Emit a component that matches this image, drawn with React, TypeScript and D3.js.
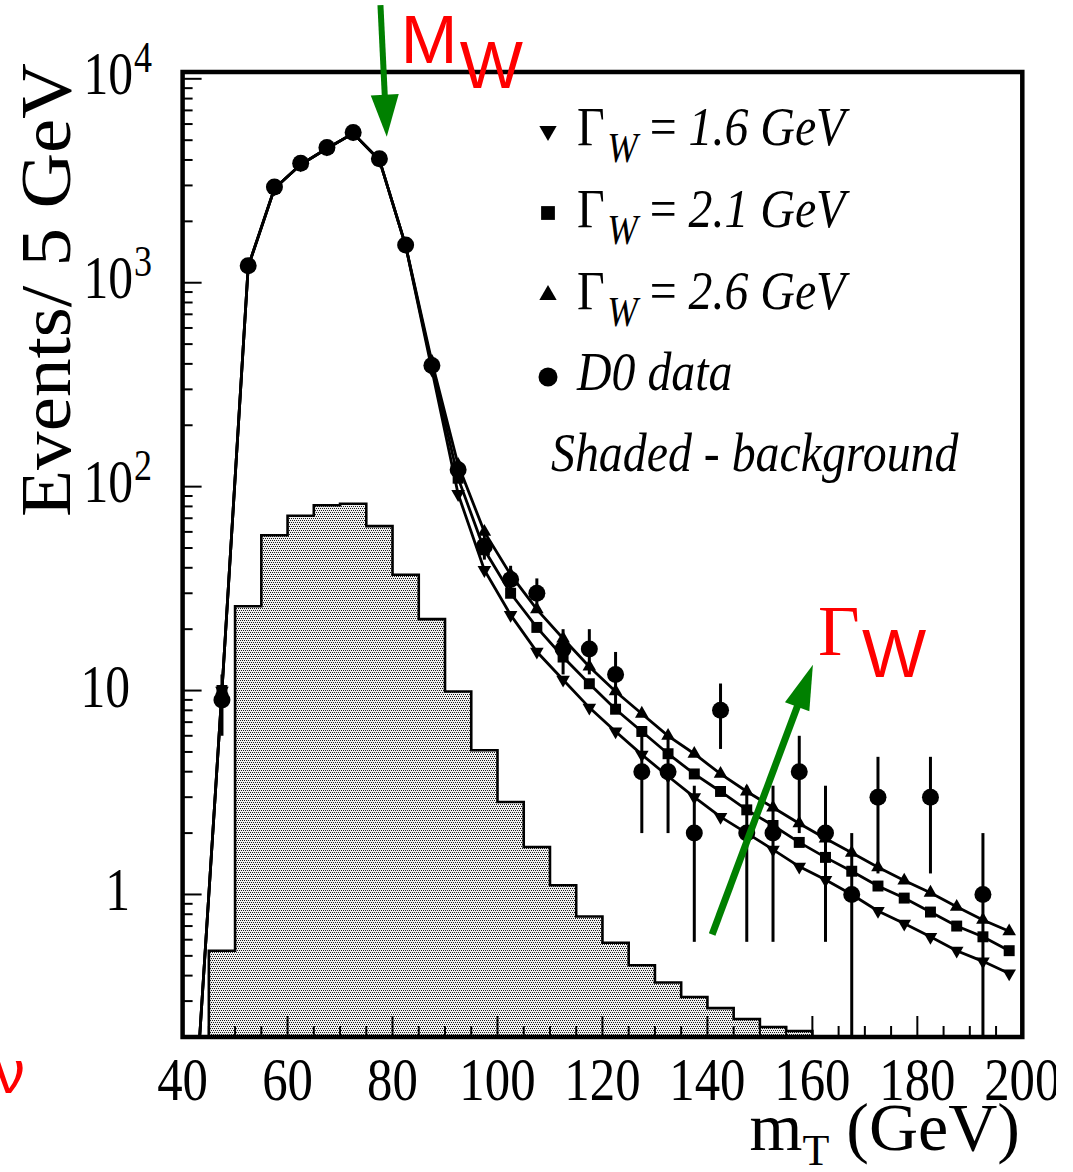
import React from 'react';
import * as d3 from 'd3';

// 5 GeV bins of transverse mass (bin centres)
const mtCenters = [42.5, 47.5, 52.5, 57.5, 62.5, 67.5, 72.5, 77.5, 82.5, 87.5, 92.5, 97.5, 102.5, 107.5, 112.5, 117.5,
  122.5, 127.5, 132.5, 137.5, 142.5, 147.5, 152.5, 157.5, 162.5, 167.5, 172.5, 177.5, 182.5, 187.5, 192.5, 197.5];

// D0 data (events / 5 GeV)
const d0Events = [0, 9, 1210, 2950, 3850, 4600, 5450, 4050, 1530, 393, 121, 51, 35, 30, 16, 16,
  12, 4, 4, 2, 8, 2, 2, 4, 2, 1, 3, 0, 3, 0, 1, 0];

// fits for three W widths
const fitGamma16 = [0.1, 10, 1200, 2900, 3800, 4550, 5400, 4000, 1520, 375, 92, 39, 23.5, 15.5, 11.3, 8.25,
  6.3, 4.85, 3.8, 3.0, 2.4, 2.0, 1.66, 1.37, 1.18, 1.0, 0.83, 0.72, 0.62, 0.53, 0.47, 0.41];
const fitGamma21 = [0.1, 10, 1200, 2900, 3800, 4550, 5400, 4000, 1520, 392, 110, 49, 30, 20.4, 14.6, 10.8,
  8.1, 6.3, 4.9, 3.9, 3.2, 2.6, 2.18, 1.8, 1.52, 1.3, 1.1, 0.96, 0.82, 0.7, 0.62, 0.53];
const fitGamma26 = [0.1, 10, 1200, 2900, 3800, 4550, 5400, 4000, 1520, 410, 128, 60, 37, 25, 18, 13.1,
  9.9, 7.7, 6.0, 4.9, 3.9, 3.2, 2.67, 2.23, 1.88, 1.6, 1.36, 1.17, 1.02, 0.87, 0.75, 0.66];

// shaded background histogram
const bgEvents = [0, 0.53, 25.9, 57.8, 72, 81, 82.5, 64, 37, 22.4, 9.9, 5.1, 2.84, 1.71, 1.11, 0.78,
  0.58, 0.45, 0.37, 0.314, 0.277, 0.245, 0.224, 0.214, 0, 0, 0, 0, 0, 0, 0, 0];

const xTicks = [40, 60, 80, 100, 120, 140, 160, 180, 200];
const yTicks = [1, 10, 100, 1000, 10000];
const widthLabels = ['1.6', '2.1', '2.6'];

const SERIF = "'Liberation Serif', 'Times New Roman', serif";
const SANS = "'Liberation Sans', Arial, sans-serif";
const GREEN = '#008000';

const W = 1073;
const H = 1172;

function arrowShapes(x1: number, y1: number, x2: number, y2: number, headLen: number, headHalf: number) {
  const len = Math.hypot(x2 - x1, y2 - y1);
  const ux = (x2 - x1) / len, uy = (y2 - y1) / len;
  const bx = x2 - ux * headLen, by = y2 - uy * headLen;
  const px = -uy, py = ux;
  return {
    shaft: [x1, y1, bx + ux * 2, by + uy * 2],
    head: `M${x2},${y2}L${bx + px * headHalf},${by + py * headHalf}L${bx - px * headHalf},${by - py * headHalf}Z`,
  };
}

export default function App() {
  const x = d3.scaleLinear().domain([40, 200]).range([182.6, 1022.3]);
  const y = d3.scaleLog().domain([0.2, 10800]).range([1037, 72]);
  const [x0, x1] = x.range();
  const [y0, y1] = y.range();
  const yv = (v: number) => (v > 0.2 ? y(v) : y0);

  const fitLine = d3.line<number>()
    .x((_, i) => x(mtCenters[i]))
    .y(v => y(v));

  // histogram outline (only the bins with content)
  const histPts: [number, number][] = [];
  bgEvents.forEach((v, i) => {
    if (v <= 0.2) return;
    const lo = mtCenters[i] - 2.5, hi = mtCenters[i] + 2.5;
    if (!histPts.length) histPts.push([x(lo), y0]);
    histPts.push([x(lo), y(v)], [x(hi), y(v)]);
  });
  histPts.push([histPts[histPts.length - 1][0], y0]);
  const histPath = d3.line()(histPts) + 'Z';

  const triUp = d3.symbol(d3.symbolTriangle, 80)();
  const square = d3.symbol(d3.symbolSquare, 120)();
  const triUpLeg = d3.symbol(d3.symbolTriangle, 130)();
  const squareLeg = d3.symbol(d3.symbolSquare, 190)();

  const fits = [
    { vals: fitGamma16, marker: triUp, rot: 180 },
    { vals: fitGamma21, marker: square, rot: 0 },
    { vals: fitGamma26, marker: triUp, rot: 0 },
  ];

  // minor ticks
  const yMinor: number[] = [];
  for (let e = -1; e <= 4; e++) {
    for (let k = 2; k <= 9; k++) {
      const v = k * Math.pow(10, e);
      if (v > 0.2 && v < 10800) yMinor.push(v);
    }
  }
  const xMinor = d3.range(45, 200, 5).filter(v => v % 20 !== 0);

  // annotation arrows (data coordinates)
  const mArrow = arrowShapes(x(77.7), y(23000), x(78.9), y(5200), 42, 14);
  const gArrow = arrowShapes(x(140.9), y(0.637), x(160.1), y(13.4), 45, 13);
  const mTip = [x(78.9), y(5200)];
  const gTip = [x(160.1), y(13.4)];

  const legendRows = [145, 227, 309, 390, 471];
  const legX = 548;

  return (
    <svg width={W} height={H} style={{ position: 'absolute', left: 0, top: 0, background: '#fff' }}>
      <defs>
        <pattern id="dots" x={0} y={0} width={4} height={4} patternUnits="userSpaceOnUse">
          <rect x={0} y={0} width={4} height={4} fill="#f0f0f0" shapeRendering="crispEdges" />
          <rect x={0} y={0} width={1} height={1} fill="#1a1a1a" shapeRendering="crispEdges" />
          <rect x={2} y={0} width={1} height={1} fill="#1a1a1a" shapeRendering="crispEdges" />
          <rect x={1} y={2} width={1} height={1} fill="#1a1a1a" shapeRendering="crispEdges" />
          <rect x={3} y={2} width={1} height={1} fill="#1a1a1a" shapeRendering="crispEdges" />
        </pattern>
        <clipPath id="plot">
          <rect x={x0} y={y1} width={x1 - x0} height={y0 - y1} />
        </clipPath>
        <clipPath id="page">
          <rect x={0} y={0} width={1056} height={H} />
        </clipPath>
      </defs>

      <path d={histPath} fill="url(#dots)" stroke="#000" strokeWidth={2.6} />

      <g clipPath="url(#plot)">
        {fits.map((f, i) => (
          <g key={i}>
            <path d={fitLine(f.vals) || ''} fill="none" stroke="#000" strokeWidth={2.8} />
            {f.vals.map((v, j) => (v > 0.2 ? (
              <path key={j} d={f.marker || ''}
                transform={`translate(${x(mtCenters[j])},${y(v)}) rotate(${f.rot})`} fill="#000" />
            ) : null))}
          </g>
        ))}

        {d0Events.map((v, i) => {
          if (v <= 0) return null;
          const err = Math.sqrt(v);
          const cx = x(mtCenters[i]);
          return (
            <g key={i}>
              <line x1={cx} x2={cx} y1={yv(v + err)} y2={yv(v - err)} stroke="#000" strokeWidth={3} />
              <circle cx={cx} cy={y(v)} r={8.5} fill="#000" />
            </g>
          );
        })}
      </g>

      {/* ticks */}
      {yTicks.map(v => <line key={v} x1={x0} x2={x0 + 19} y1={y(v)} y2={y(v)} stroke="#000" strokeWidth={2} />)}
      {yMinor.map(v => <line key={v} x1={x0} x2={x0 + 10} y1={y(v)} y2={y(v)} stroke="#000" strokeWidth={2} />)}
      {xTicks.map(v => <line key={v} x1={x(v)} x2={x(v)} y1={y0} y2={y0 - 21} stroke="#000" strokeWidth={2} />)}
      {xMinor.map(v => <line key={v} x1={x(v)} x2={x(v)} y1={y0} y2={y0 - 11} stroke="#000" strokeWidth={2} />)}

      <rect x={x0} y={y1} width={x1 - x0} height={y0 - y1} fill="none" stroke="#000" strokeWidth={4.5} />

      {/* y tick labels */}
      {yTicks.map(v => {
        const ty = y(v);
        const exp = Math.round(Math.log10(v));
        if (exp < 2) {
          return (
            <g key={v} transform={`translate(130,${ty + 16}) scale(0.8,1)`}>
              <text textAnchor="end" fontFamily={SERIF} fontSize={62}>{String(v)}</text>
            </g>
          );
        }
        return (
          <g key={v}>
            <g transform={`translate(133,${ty + 15}) scale(0.8,1)`}>
              <text textAnchor="end" fontFamily={SERIF} fontSize={62}>10</text>
            </g>
            <g transform={`translate(134,${ty - 7}) scale(0.8,1)`}>
              <text fontFamily={SERIF} fontSize={45}>{String(exp)}</text>
            </g>
          </g>
        );
      })}

      {/* x tick labels */}
      <g clipPath="url(#page)">
        {xTicks.map(v => (
          <g key={v} transform={`translate(${x(v)},1100) scale(0.82,1)`}>
            <text textAnchor="middle" fontFamily={SERIF} fontSize={62}>{String(v)}</text>
          </g>
        ))}
      </g>

      {/* axis titles */}
      <text x={1020} y={1150} textAnchor="end" fontFamily={SERIF} fontSize={68} style={{ whiteSpace: 'pre' }}>
        m<tspan fontSize={44} dy={15}>T</tspan><tspan dy={-15}> (GeV)</tspan>
      </text>
      <text transform="translate(70,517) rotate(-90)" fontFamily={SERIF} fontSize={72}
        textLength={454} lengthAdjust="spacingAndGlyphs" style={{ whiteSpace: 'pre' }}>
        Events/ 5 GeV
      </text>

      {/* legend */}
      {widthLabels.map((lab, i) => {
        const by = legendRows[i];
        const mark = i === 1 ? squareLeg : triUpLeg;
        return (
          <g key={lab}>
            <path d={mark || ''} transform={`translate(${legX},${by - 14}) rotate(${i === 0 ? 180 : 0})`} fill="#000" />
            <g transform={`translate(577,${by}) scale(0.87,1)`}>
              <text fontFamily={SERIF} fontSize={55} style={{ whiteSpace: 'pre' }}>
                Γ<tspan fontSize={42} fontStyle="italic" dx={3} dy={17}>W</tspan>
                <tspan dy={-17}> = </tspan>
                <tspan fontStyle="italic">{lab} GeV</tspan>
              </text>
            </g>
          </g>
        );
      })}
      <circle cx={legX} cy={legendRows[3] - 13} r={9.5} fill="#000" />
      <g transform={`translate(577,${legendRows[3]}) scale(0.87,1)`}>
        <text fontFamily={SERIF} fontSize={55} fontStyle="italic">D0 data</text>
      </g>
      <g transform={`translate(551,${legendRows[4]}) scale(0.87,1)`}>
        <text fontFamily={SERIF} fontSize={55} fontStyle="italic" style={{ whiteSpace: 'pre' }}>Shaded - background</text>
      </g>

      {/* annotations */}
      <line x1={mArrow.shaft[0]} y1={mArrow.shaft[1]} x2={mArrow.shaft[2]} y2={mArrow.shaft[3]} stroke={GREEN} strokeWidth={6} />
      <path d={mArrow.head} fill={GREEN} />
      <text x={mTip[0] + 14} y={mTip[1] - 74} fontFamily={SANS} fontSize={68} fill="#ff0000">M</text>
      <text x={mTip[0] + 73} y={mTip[1] - 49} fontFamily={SANS} fontSize={67} fill="#ff0000">W</text>

      <line x1={gArrow.shaft[0]} y1={gArrow.shaft[1]} x2={gArrow.shaft[2]} y2={gArrow.shaft[3]} stroke={GREEN} strokeWidth={7} />
      <path d={gArrow.head} fill={GREEN} />
      <text x={gTip[0] + 5} y={gTip[1] - 10} fontFamily={SERIF} fontSize={72} fill="#ff0000">Γ</text>
      <text x={gTip[0] + 49} y={gTip[1] + 12} fontFamily={SANS} fontSize={68} fill="#ff0000">W</text>

      <text x={-6} y={1093} fontFamily={SANS} fontSize={62} fill="#ff0000">ν</text>
    </svg>
  );
}
